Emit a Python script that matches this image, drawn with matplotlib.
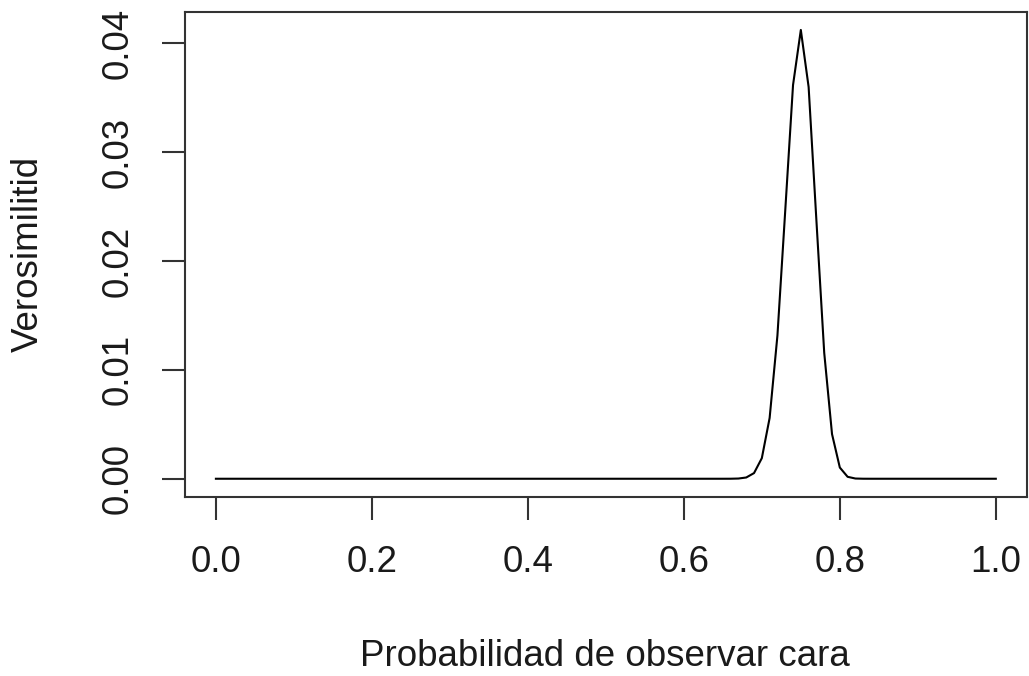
import numpy as np
import matplotlib
matplotlib.use("Agg")
import matplotlib.pyplot as plt

# Probability grid (step 0.01) and likelihood
prob_grid = [round(i / 100, 2) for i in range(101)]
peak_probs = [0.66, 0.67, 0.68, 0.69, 0.70, 0.71, 0.72, 0.73, 0.74, 0.75,
              0.76, 0.77, 0.78, 0.79, 0.80, 0.81, 0.82, 0.83]
peak_vals = [0.000002, 0.00002, 0.000115, 0.00052, 0.00189, 0.00558, 0.01315,
             0.0246, 0.03614, 0.0412, 0.03596, 0.02368, 0.01156, 0.0041,
             0.00103, 0.000178, 0.00002, 0.000002]
peak_map = dict(zip(peak_probs, peak_vals))
likelihood = [peak_map.get(p, 0.0) for p in prob_grid]

x_ticks = [0.0, 0.2, 0.4, 0.6, 0.8, 1.0]
x_tick_labels = ["0.0", "0.2", "0.4", "0.6", "0.8", "1.0"]
y_ticks = [0.00, 0.01, 0.02, 0.03, 0.04]
y_tick_labels = ["0.00", "0.01", "0.02", "0.03", "0.04"]

plt.rcParams['font.family'] = ['Liberation Sans', 'DejaVu Sans']

fig = plt.figure(figsize=(10.29, 6.76), dpi=100)
ax = fig.add_axes([184.7 / 1029, 1 - 496.7 / 676, (1027 - 184.7) / 1029, (496.7 - 12) / 676])
ax.plot(prob_grid, likelihood, color='black', linewidth=1.5)

ymax = max(likelihood)
ax.set_xlim(-0.04, 1.04)
ax.set_ylim(-0.04 * ymax, 1.04 * ymax)

ax.set_xticks(x_ticks)
ax.set_xticklabels(x_tick_labels)
ax.set_yticks(y_ticks)
ax.set_yticklabels(y_tick_labels, rotation=90, va='center')

fs = 26.5
ax.tick_params(axis='both', direction='out', length=16.5, width=1.5, color='#333333',
               labelsize=fs, labelcolor='#1a1a1a')
ax.tick_params(axis='x', pad=18)
ax.tick_params(axis='y', pad=19)
for s in ax.spines.values():
    s.set_linewidth(1.5)
    s.set_color('#333333')

fig.text(605 / 1029, 1 - 656 / 676, "Probabilidad de observar cara", ha='center', va='center',
         fontsize=fs, color='#1a1a1a')
fig.text(28 / 1029, 1 - 254 / 676, "Verosimilitid", ha='center', va='center', rotation=90,
         fontsize=fs, color='#1a1a1a')

fig.savefig("out.png", dpi=100)
